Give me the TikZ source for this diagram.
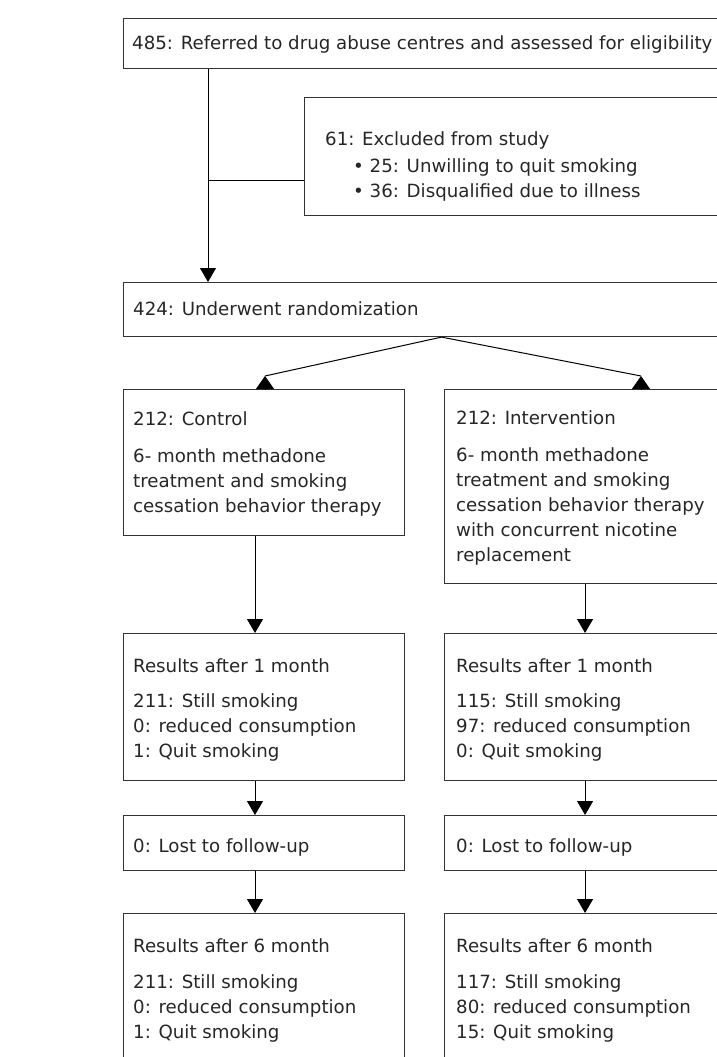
\documentclass[tikz,border=0pt]{standalone}
\usepackage{fontspec}
\setmainfont{DejaVu Sans}
\usepackage{tikz}
\usetikzlibrary{arrows.meta}

\begin{document}
\begin{tikzpicture}[x=1pt,y=-1pt,
  box/.style={draw=black!80,line width=1.1pt,anchor=north west,inner sep=0pt},
  txt/.style={anchor=base west,align=left,inner sep=0pt,text=black!85,
    font=\fontsize{18.2pt}{25pt}\selectfont},
  arr/.style={line width=1pt,-{Triangle[length=14pt,width=16pt]}},
  headup/.style={line width=1pt,-{Triangle[length=13pt,width=18pt]}},
  link/.style={line width=1pt}]
\useasboundingbox (0,0) rectangle (717,1057);
\clip (0,0) rectangle (717,1057);
  \node[box,minimum width=636pt,minimum height=50pt] (refd) at (123,18) {};
  \node[txt] (refdtxt) at (132,50) {485: Referred to drug abuse centres and assessed for eligibility};
  \node[box,minimum width=450pt,minimum height=118pt] (excl) at (304,97) {};
  \node[txt] (excltxt) at (325,145) {61: Excluded from study};
  \node[txt] (exclitems) at (353,197) {\textbullet\ 25: Unwilling to quit smoking\\
    \textbullet\ 36: Disqualified due to illness};
  \node[box,minimum width=636pt,minimum height=54pt] (rand) at (123,282) {};
  \node[txt] (randtxt) at (133,315) {424: Underwent randomization};
  % the two arms
  \node[box,minimum width=281pt,minimum height=146pt] (ctl) at (123,389) {};
  \node[txt] (ctltxt) at (133,512) {212: Control\\[12pt] 6- month methadone\\
    treatment and smoking\\ cessation behavior therapy};
  \node[box,minimum width=281pt,minimum height=194pt] (intv) at (444,389) {};
  \node[txt] (intvtxt) at (456,561) {212: Intervention\\[12pt] 6- month methadone\\
    treatment and smoking\\ cessation behavior therapy\\ with concurrent nicotine\\ replacement};
  \node[box,minimum width=281pt,minimum height=147pt] (ctlone) at (123,633) {};
  \node[txt] (ctlonetxt) at (133,757) {Results after 1 month\\[10pt] 211: Still smoking\\
    0: reduced consumption\\ 1: Quit smoking};
  \node[box,minimum width=281pt,minimum height=147pt] (intvone) at (444,633) {};
  \node[txt] (intvonetxt) at (456,757) {Results after 1 month\\[10pt] 115: Still smoking\\
    97: reduced consumption\\ 0: Quit smoking};
  \node[box,minimum width=281pt,minimum height=55pt] (ctllost) at (123,815) {};
  \node[txt] (ctllosttxt) at (133,852) {0: Lost to follow-up};
  \node[box,minimum width=281pt,minimum height=55pt] (intvlost) at (444,815) {};
  \node[txt] (intvlosttxt) at (456,852) {0: Lost to follow-up};
  \node[box,minimum width=281pt,minimum height=200pt] (ctlsix) at (123,913) {};
  \node[txt] (ctlsixtxt) at (133,1038) {Results after 6 month\\[11pt] 211: Still smoking\\
    0: reduced consumption\\ 1: Quit smoking};
  \node[box,minimum width=281pt,minimum height=200pt] (intvsix) at (444,913) {};
  \node[txt] (intvsixtxt) at (456,1038) {Results after 6 month\\[11pt] 117: Still smoking\\
    80: reduced consumption\\ 15: Quit smoking};
  % connectors
  \coordinate (trunk) at (208,0);
  \coordinate (fork) at (208,180);
  \draw[arr] (refd.south -| trunk) -- (rand.north -| trunk);
  \draw[link] (fork) -- (fork -| excl.west);
  \coordinate (ctlhead) at (265,376);
  \coordinate (intvhead) at (641,376);
  \draw[link] (rand.south) -- (ctlhead);
  \draw[link] (rand.south) -- (intvhead);
  \draw[headup] (ctl.north -| ctlhead) -- (ctlhead);
  \draw[headup] (intv.north -| intvhead) -- (intvhead);
  \coordinate (ctlline) at (255,0);
  \draw[arr] (ctl.south -| ctlline) -- (ctlone.north -| ctlline);
  \draw[arr] (ctlone.south -| ctlline) -- (ctllost.north -| ctlline);
  \draw[arr] (ctllost.south -| ctlline) -- (ctlsix.north -| ctlline);
  \draw[arr] (intv.south) -- (intvone.north);
  \draw[arr] (intvone.south) -- (intvlost.north);
  \draw[arr] (intvlost.south) -- (intvsix.north);
\end{tikzpicture}
\end{document}
